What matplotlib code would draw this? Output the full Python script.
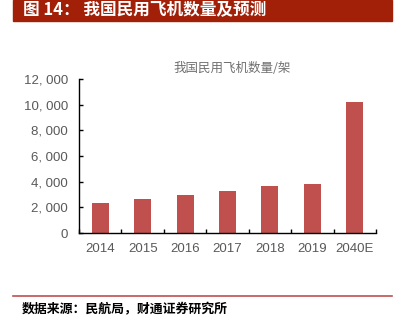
import matplotlib.pyplot as plt
from matplotlib.patches import Rectangle
from matplotlib.lines import Line2D

years = ['2014', '2015', '2016', '2017', '2018', '2019', '2040E']
planes = [2370, 2650, 2950, 3296, 3639, 3818, 10180]
yticks = [0, 2000, 4000, 6000, 8000, 10000, 12000]

plt.rcParams['font.family'] = ['Liberation Sans', 'Noto Sans CJK SC', 'DejaVu Sans']

fig = plt.figure(figsize=(4, 3.17), dpi=100)
W, H = 400, 317

# header bar
fig.patches.append(Rectangle((13 / W, 1 - 21 / H), 379 / W, 21 / H,
                             transform=fig.transFigure, color='#A21F08', zorder=0))
fig.text(23 / W, 1 - 10.5 / H, '图 14： 我国民用飞机数量及预测', color='white',
         fontsize=12, fontweight='bold', va='center', ha='left',
         family=['Noto Sans CJK SC', 'DejaVu Sans'])

ax = fig.add_axes([79 / W, 1 - 233 / H, 297 / W, 154 / H])
x = range(len(years))
ax.bar(x, planes, width=0.4, color='#C0504D')
ax.set_xlim(-0.5, len(years) - 0.5)
ax.set_ylim(0, 12000)
ax.set_yticks(yticks)
ax.set_yticklabels(['{:,}'.format(v).replace(',', ', ') for v in yticks],
                   fontsize=9.5, color='#595959')
ax.set_xticks(list(x))
ax.set_xticklabels(years, fontsize=9.5, color='#595959')
ax.set_xticks([i - 0.5 for i in range(len(years) + 1)], minor=True)
ax.tick_params(axis='x', which='major', length=0, pad=7)
ax.tick_params(axis='x', which='minor', direction='in', length=3, width=1)
ax.tick_params(axis='y', direction='in', length=3, width=1, pad=8)
for s in ['top', 'right']:
    ax.spines[s].set_visible(False)
for s in ['left', 'bottom']:
    ax.spines[s].set_linewidth(1)
    ax.spines[s].set_color('black')

fig.text(232 / W, 1 - 68 / H, '我国民用飞机数量/架', color='#6F6F6F', fontsize=9,
         ha='center', va='center', family=['Noto Sans CJK SC', 'DejaVu Sans'])

# footer
fig.lines.append(Line2D([13 / W, 392 / W], [1 - 296 / H, 1 - 296 / H],
                        transform=fig.transFigure, color='#C0504D', linewidth=1.2))
fig.text(22 / W, 1 - 309 / H, '数据来源：民航局，财通证券研究所', color='black',
         fontsize=9.3, fontweight='bold', ha='left', va='center',
         family=['Noto Sans CJK SC', 'DejaVu Sans'])

fig.savefig('out.png', dpi=100)
